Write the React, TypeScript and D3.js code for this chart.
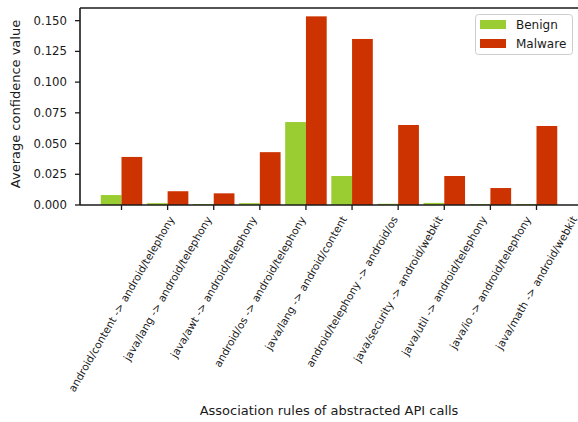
import React, { useEffect, useRef } from 'react';
import * as d3 from 'd3';

const rules = [
    'android/content -> android/telephony',
    'java/lang -> android/telephony',
    'java/awt -> android/telephony',
    'android/os -> android/telephony',
    'java/lang -> android/content',
    'android/telephony -> android/os',
    'java/security -> android/webkit',
    'java/util -> android/telephony',
    'java/io -> android/telephony',
    'java/math -> android/webkit'
];
const benign = [0.0081, 0.0015, 0.0008, 0.0015, 0.0675, 0.0236, 0.001, 0.0017, 0.0008, 0.0008];
const malware = [0.0391, 0.0112, 0.0095, 0.043, 0.1535, 0.1351, 0.0651, 0.0236, 0.0138, 0.0643];
const yTicks = [0, 0.025, 0.05, 0.075, 0.1, 0.125, 0.15];
const seriesNames = ['Benign', 'Malware'];
const seriesColors = ['#9acd32', '#cc3300'];

const FONT = 'DejaVu Sans, sans-serif';

const App: React.FC = () => {
    const chartRef = useRef<SVGSVGElement | null>(null);

    useEffect(() => {
        if (!chartRef.current) return;
        const width = 578;
        const height = 422;
        const margin = { top: 8, right: 0, bottom: 217, left: 80 };

        const svg = d3.select(chartRef.current);
        svg.selectAll('*').remove();

        const x = d3.scaleLinear().domain([-0.9, 9.9]).range([margin.left, width - margin.right]);
        const y = d3.scaleLinear().domain([0, 0.1603]).range([height - margin.bottom, margin.top]);
        const barW = x(0.45) - x(0);

        // bars
        const series = [benign, malware];
        series.forEach((vals, s) => {
            svg.append('g').selectAll('rect')
                .data(vals)
                .enter().append('rect')
                .attr('x', (d, i) => s === 0 ? x(i) - barW : x(i))
                .attr('y', d => y(d))
                .attr('width', barW)
                .attr('height', d => y(0) - y(d))
                .attr('fill', seriesColors[s]);
        });

        // spines
        const spine = '#1a1a1a';
        svg.append('line').attr('x1', x.range()[0]).attr('x2', x.range()[1])
            .attr('y1', y(0)).attr('y2', y(0)).attr('stroke', spine).attr('stroke-width', 1.6);
        svg.append('line').attr('x1', x.range()[0]).attr('x2', x.range()[1])
            .attr('y1', margin.top).attr('y2', margin.top).attr('stroke', spine).attr('stroke-width', 1.6);
        svg.append('line').attr('x1', margin.left).attr('x2', margin.left)
            .attr('y1', margin.top).attr('y2', y(0)).attr('stroke', spine).attr('stroke-width', 1.6);

        // y ticks
        const yg = svg.append('g');
        yTicks.forEach(t => {
            yg.append('line').attr('x1', margin.left - 5).attr('x2', margin.left)
                .attr('y1', y(t)).attr('y2', y(t)).attr('stroke', spine).attr('stroke-width', 1.3);
            yg.append('text').attr('x', margin.left - 13).attr('y', y(t)).attr('dy', '0.35em')
                .attr('text-anchor', 'end').style('font-family', FONT).style('font-size', '11.7px')
                .style('fill', '#1a1a1a').text(t.toFixed(3));
        });

        // x ticks + rotated labels (centred under the tick, like ha='center')
        const xg = svg.append('g');
        const fs = 10.6;
        rules.forEach((r, i) => {
            xg.append('line').attr('x1', x(i)).attr('x2', x(i))
                .attr('y1', y(0)).attr('y2', y(0) + 5).attr('stroke', spine).attr('stroke-width', 1.3);
            const t = xg.append('text')
                .style('font-family', FONT).style('font-size', fs + 'px')
                .style('fill', '#1a1a1a').attr('text-anchor', 'middle').text(r);
            const L = (t.node() as SVGTextElement).getComputedTextLength();
            const h = fs * 1.164;
            const H = L * Math.sin(Math.PI / 3) + h * Math.cos(Math.PI / 3);
            const cx = x(i);
            const cy = y(0) + 9 + H / 2;
            t.attr('x', cx).attr('y', cy).attr('dy', '0.35em')
                .attr('transform', `rotate(-60, ${cx}, ${cy})`);
        });

        // axis titles
        svg.append('text').attr('x', (x.range()[0] + x.range()[1]) / 2).attr('y', 415)
            .attr('text-anchor', 'middle').style('font-family', FONT).style('font-size', '13px')
            .style('fill', '#1a1a1a').text('Association rules of abstracted API calls');
        svg.append('text').attr('transform', `translate(20, 104) rotate(-90)`)
            .attr('text-anchor', 'middle').style('font-family', FONT).style('font-size', '13px')
            .style('fill', '#1a1a1a').text('Average confidence value');

        // legend
        const legend = svg.append('g');
        legend.append('rect').attr('x', 475.5).attr('y', 14.5).attr('width', 97).attr('height', 40)
            .attr('rx', 3).attr('fill', 'white').attr('fill-opacity', 0.8)
            .attr('stroke', '#cccccc').attr('stroke-width', 1);
        seriesNames.forEach((name, i) => {
            legend.append('rect').attr('x', 480).attr('y', 20 + i * 19).attr('width', 26).attr('height', 9)
                .attr('fill', seriesColors[i]);
            legend.append('text').attr('x', 516).attr('y', 29 + i * 18.5)
                .style('font-family', FONT).style('font-size', '12px').style('fill', '#1a1a1a').text(name);
        });
    }, []);

    return (
        <svg ref={chartRef} width={578} height={422}
            style={{ position: 'absolute', left: 0, top: 0, background: 'white' }}></svg>
    );
};

export default App;
